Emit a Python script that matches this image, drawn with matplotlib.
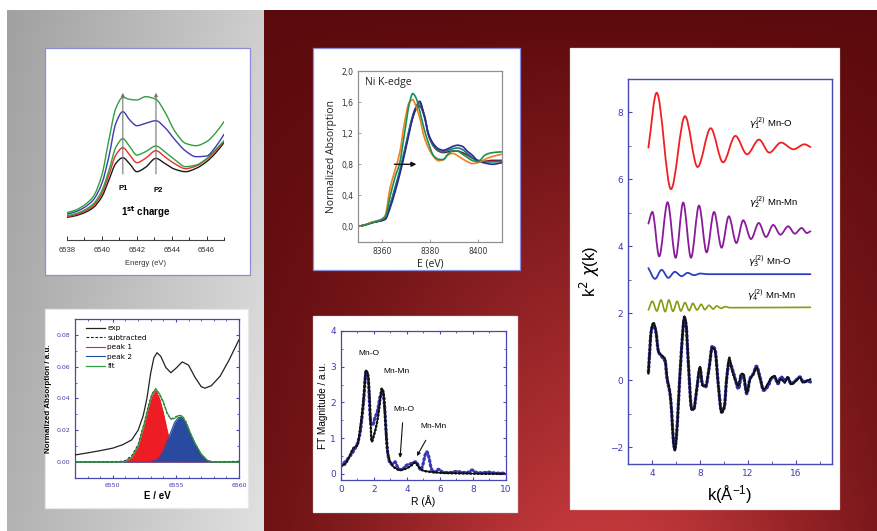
import matplotlib
matplotlib.use("Agg")
import matplotlib.pyplot as plt
import numpy as np
from matplotlib.patches import Rectangle, PathPatch
from matplotlib.path import Path
from matplotlib.ticker import MultipleLocator, FuncFormatter

W, H = 878, 531

# ---- panel A: Mn pre-edge, 1st charge ----
e_a = [6538.0, 6538.5, 6539.0, 6539.5, 6540.0, 6540.4, 6540.8, 6541.2, 6541.6, 6542.0,
       6542.5, 6543.1, 6543.6, 6544.2, 6544.8, 6545.4, 6546.0, 6546.5, 6547.0]
a_black = [0.68, 0.73, 0.82, 0.97, 1.30, 1.80, 2.30, 2.47, 2.28, 2.05, 2.18, 2.45, 2.30, 2.12, 2.05, 2.15, 2.35, 2.60, 2.92]
a_red = [0.70, 0.76, 0.86, 1.03, 1.40, 1.95, 2.55, 2.77, 2.55, 2.32, 2.45, 2.68, 2.50, 2.28, 2.14, 2.22, 2.42, 2.67, 2.95]
a_green = [0.73, 0.79, 0.90, 1.08, 1.48, 2.08, 2.78, 3.04, 2.80, 2.55, 2.65, 2.82, 2.65, 2.40, 2.20, 2.25, 2.44, 2.70, 2.98]
a_blue = [0.78, 0.85, 0.98, 1.20, 1.70, 2.50, 3.50, 3.85, 3.60, 3.43, 3.50, 3.58, 3.38, 3.00, 2.67, 2.50, 2.52, 2.78, 3.17]
a_top = [0.82, 0.90, 1.05, 1.30, 1.95, 3.00, 3.95, 4.28, 4.22, 4.20, 4.30, 4.22, 3.85, 3.25, 2.90, 2.83, 2.95, 3.20, 3.55]
p_marks = [6541.2, 6543.1]

# ---- panel B: peak fit ----
e_b = [6547.0, 6548.0, 6549.0, 6550.0, 6550.8, 6551.5, 6552.0, 6552.4, 6552.7, 6553.0, 6553.25, 6553.5,
       6553.8, 6554.2, 6554.6, 6555.0, 6555.5, 6556.0, 6556.5, 6557.0, 6557.3, 6557.8, 6558.5, 6559.2, 6560.0]
b_exp = [0.0045, 0.0058, 0.0072, 0.0088, 0.0110, 0.0140, 0.0200, 0.0290, 0.0400, 0.0560, 0.0655, 0.0688,
         0.0665, 0.0595, 0.0562, 0.0590, 0.0630, 0.0610, 0.0535, 0.0475, 0.0465, 0.0480, 0.0540, 0.0640, 0.0770]
e_pk = [6547.0, 6550.5, 6551.0, 6551.5, 6552.0, 6552.5, 6552.8, 6553.1, 6553.4, 6553.7, 6554.0, 6554.3,
        6554.6, 6554.9, 6555.2, 6555.5, 6555.8, 6556.1, 6556.5, 6557.0, 6557.5, 6558.0, 6560.0]
peak1 = [0, 0, 0.0005, 0.003, 0.010, 0.024, 0.034, 0.042, 0.045, 0.040, 0.031, 0.020,
         0.010, 0.004, 0.001, 0, 0, 0, 0, 0, 0, 0, 0]
peak2 = [0, 0, 0, 0, 0, 0, 0, 0.0005, 0.001, 0.003, 0.007, 0.013,
         0.019, 0.025, 0.028, 0.028, 0.025, 0.019, 0.012, 0.005, 0.001, 0, 0]
fit = [0, 0, 0.0005, 0.003, 0.010, 0.024, 0.034, 0.0425, 0.046, 0.043, 0.038, 0.031,
       0.027, 0.0275, 0.0292, 0.0288, 0.025, 0.019, 0.012, 0.005, 0.001, 0, 0]
subtracted = [0, 0.0003, 0.001, 0.004, 0.011, 0.025, 0.035, 0.043, 0.0462, 0.0425, 0.0375, 0.0305,
              0.0272, 0.028, 0.0295, 0.029, 0.0252, 0.0188, 0.0118, 0.0048, 0.0008, 0, 0.0005]

# ---- panel C: Ni K-edge ----
e_c = [8350, 8353, 8356, 8359, 8361.3, 8363.4, 8365.4, 8367.4, 8369.4, 8371.4, 8372.8, 8374.1,
       8375.7, 8377.5, 8379.5, 8381.5, 8383.5, 8385.5, 8387.5, 8389.5, 8391.5, 8393.5, 8395.5,
       8397.5, 8400, 8403, 8406, 8410]
c_orange = [0.0, 0.02, 0.06, 0.08, 0.14, 0.50, 0.72, 0.95, 1.34, 1.60, 1.63, 1.55, 1.40, 1.16, 1.00,
            0.90, 0.845, 0.86, 0.92, 0.94, 0.91, 0.87, 0.835, 0.81, 0.82, 0.865, 0.90, 0.93]
c_green = [0.0, 0.02, 0.05, 0.08, 0.12, 0.39, 0.63, 0.82, 1.20, 1.58, 1.71, 1.66, 1.49, 1.26, 1.06,
           0.91, 0.865, 0.86, 0.93, 0.97, 0.97, 0.93, 0.89, 0.85, 0.835, 0.92, 0.95, 0.96]
c_navy = [0.0, 0.02, 0.05, 0.07, 0.09, 0.24, 0.44, 0.67, 0.93, 1.21, 1.40, 1.53, 1.61, 1.44, 1.18,
          1.06, 1.00, 0.98, 1.00, 1.03, 1.045, 1.03, 0.97, 0.92, 0.845, 0.815, 0.80, 0.82]
c_teal = [0.0, 0.02, 0.05, 0.07, 0.10, 0.28, 0.50, 0.72, 0.98, 1.26, 1.43, 1.53, 1.58, 1.45, 1.17,
          1.04, 0.98, 0.96, 0.98, 1.00, 1.01, 0.99, 0.94, 0.89, 0.84, 0.83, 0.83, 0.84]
c_maroon = [0.0, 0.02, 0.05, 0.07, 0.10, 0.27, 0.48, 0.70, 0.96, 1.24, 1.40, 1.50, 1.55, 1.43, 1.16,
            1.03, 0.97, 0.95, 0.96, 0.97, 0.97, 0.95, 0.92, 0.88, 0.85, 0.84, 0.85, 0.85]

# ---- panel D: Fourier transform ----
r_black = [0.0, 0.24, 0.55, 0.75, 1.0, 1.15, 1.36, 1.52, 1.66, 1.76, 1.86, 2.0, 2.17, 2.33, 2.47,
           2.57, 2.67, 2.81, 2.94, 3.18, 3.58, 3.99, 4.29, 4.49, 4.7, 5.0, 5.6, 6.62, 10.0]
ft_black = [0.22, 0.27, 0.53, 0.72, 0.81, 1.23, 2.07, 2.90, 2.72, 1.79, 0.90, 1.09, 1.41, 1.88, 2.39,
            2.30, 1.60, 0.67, 0.39, 0.20, 0.11, 0.16, 0.25, 0.32, 0.20, 0.09, 0.05, 0.02, 0.0]
r_blue = [0.0, 0.55, 1.0, 1.15, 1.36, 1.52, 1.62, 1.72, 1.80, 1.92, 2.06, 2.20, 2.37, 2.51, 2.61,
          2.73, 2.83, 2.98, 3.14, 3.28, 3.42, 3.54, 3.68, 3.83, 3.99, 4.19, 4.39, 4.55, 4.70, 4.84,
          4.96, 5.10, 5.20, 5.32, 5.47, 5.61, 5.77, 5.91, 6.05, 6.21, 6.62, 7.02, 7.43, 7.73, 7.94,
          8.14, 8.54, 8.95, 9.25, 9.66, 10.0]
ft_blue = [0.22, 0.50, 0.86, 1.13, 1.97, 2.86, 2.76, 2.07, 1.41, 1.37, 1.58, 1.74, 2.16, 2.30, 2.07,
           1.23, 0.58, 0.30, 0.28, 0.34, 0.20, 0.13, 0.11, 0.18, 0.25, 0.28, 0.32, 0.34, 0.22, 0.11,
           0.25, 0.53, 0.62, 0.48, 0.16, 0.05, 0.07, 0.13, 0.09, 0.04, 0.04, 0.07, 0.04, 0.05, 0.11,
           0.05, 0.03, 0.05, 0.03, 0.02, 0.02]

# ---- panel E: EXAFS k2 chi(k) ----
k_red = [3.7, 4.39, 5.58, 6.75, 7.8, 8.89, 9.92, 10.95, 11.92, 12.92, 13.78, 14.75, 15.8, 16.7, 17.2]
chi_red = [6.95, 8.59, 5.71, 7.89, 6.37, 7.53, 6.51, 7.30, 6.75, 7.19, 6.80, 7.10, 6.90, 7.05, 6.97]
k_purple = [3.7, 4.03, 4.6, 5.3, 5.97, 6.6, 7.25, 7.92, 8.55, 9.17, 9.8, 10.4, 11.03, 11.6, 12.25,
            12.9, 13.5, 14.1, 14.7, 15.35, 15.9, 16.47, 16.9, 17.2]
chi_purple = [4.68, 5.03, 3.70, 5.32, 3.66, 5.31, 3.66, 5.22, 3.82, 5.03, 3.96, 4.90, 4.10, 4.78, 4.22,
              4.70, 4.28, 4.64, 4.35, 4.60, 4.38, 4.55, 4.40, 4.45]
k_blue = [3.7, 4.25, 4.8, 5.36, 5.9, 6.47, 6.97, 7.5, 8.05, 8.6, 17.2]
chi_blue = [3.35, 3.03, 3.30, 3.06, 3.24, 3.11, 3.21, 3.14, 3.19, 3.17, 3.17]
k_olive = [3.7, 4.03, 4.4, 4.75, 5.1, 5.4, 5.75, 6.1, 6.4, 6.75, 7.1, 7.4, 7.75, 8.1, 8.4, 8.75,
           9.1, 9.4, 9.75, 10.1, 10.5, 17.2]
chi_olive = [2.10, 2.36, 2.07, 2.40, 2.05, 2.40, 2.06, 2.36, 2.07, 2.32, 2.08, 2.30, 2.10, 2.27, 2.11,
             2.24, 2.13, 2.22, 2.15, 2.20, 2.17, 2.18]
k_data = [3.7, 3.95, 4.12, 4.3, 4.55, 4.8, 5.1, 5.25, 5.5, 5.64, 5.78, 5.9, 6.05, 6.19, 6.47, 6.7,
          6.83, 7.03, 7.3, 7.47, 7.72, 8.0, 8.2, 8.47, 8.75, 9.03, 9.25, 9.53, 9.8, 10.03, 10.22,
          10.44, 10.64, 10.92, 11.2, 11.4, 11.6, 11.9, 12.17, 12.45, 12.7, 13.0, 13.3, 13.7, 13.94,
          14.2, 14.5, 14.75, 15.08, 15.3, 15.6, 16.05, 16.33, 16.6, 16.97, 17.2]
chi_exp = [0.20, 1.52, 1.72, 1.52, 0.83, 0.75, 0.63, 0.13, -0.37, -0.97, -1.86, -2.11, -1.66, -0.77,
           1.02, 1.92, 1.72, 0.53, -0.87, -0.87, -0.27, 0.41, -0.17, -0.17, 0.33, 0.98, 0.87, -0.17,
           -0.97, -0.77, 0.03, 0.68, 0.33, 0.03, -0.17, 0.18, 0.20, -0.37, 0.03, 0.18, 0.38, 0.03,
           -0.27, -0.07, 0.08, 0.13, -0.07, 0.03, -0.07, 0.10, -0.12, 0.00, 0.08, -0.07, 0.00, 0.03]
chi_fit = [0.25, 1.50, 1.68, 1.50, 0.85, 0.72, 0.55, 0.05, -0.40, -0.95, -1.80, -2.05, -1.60, -0.75,
           0.98, 1.85, 1.68, 0.50, -0.85, -0.88, -0.30, 0.35, -0.10, -0.20, 0.35, 1.02, 0.92, -0.15,
           -0.95, -0.80, 0.05, 0.55, 0.40, 0.05, -0.25, 0.05, 0.15, -0.40, 0.05, 0.20, 0.42, 0.10,
           -0.30, -0.15, 0.05, 0.10, -0.10, 0.10, 0.00, 0.08, -0.10, 0.02, 0.10, -0.05, -0.02, -0.05]

BLUE = "#4848b4"
BLUE_TXT = "#3c3cb0"


def box(x0, y0, x1, y1):
    return [x0 / W, 1 - y1 / H, (x1 - x0) / W, (y1 - y0) / H]


def smooth_path(x, y):
    """Bezier path through the read points (shape-preserving cubic, like Origin's spline connect)."""
    x = np.asarray(x, float)
    y = np.asarray(y, float)
    h = np.diff(x)
    d = np.diff(y) / h
    m = np.zeros_like(y)
    m[0], m[-1] = d[0], d[-1]
    for i in range(1, len(x) - 1):
        if d[i - 1] * d[i] > 0:
            w1 = 2 * h[i] + h[i - 1]
            w2 = h[i] + 2 * h[i - 1]
            m[i] = (w1 + w2) / (w1 / d[i - 1] + w2 / d[i])
    verts = [(x[0], y[0])]
    codes = [Path.MOVETO]
    for i in range(len(x) - 1):
        verts += [(x[i] + h[i] / 3, y[i] + m[i] * h[i] / 3),
                  (x[i + 1] - h[i] / 3, y[i + 1] - m[i + 1] * h[i] / 3),
                  (x[i + 1], y[i + 1])]
        codes += [Path.CURVE4] * 3
    return Path(verts, codes)


def curve(ax, x, y, **kw):
    ax.add_patch(PathPatch(smooth_path(x, y), fill=False, capstyle="round", joinstyle="round", **kw))


fig = plt.figure(figsize=(8.78, 5.31), dpi=100)
fig.patch.set_facecolor("white")

# background: grey left half, dark red right half
bg = fig.add_axes([0, 0, 1, 1])
bg.set_xlim(0, W)
bg.set_ylim(H, 0)
bg.axis("off")
xf = np.linspace(0, 1, 200)[None, :]
yf = np.linspace(0, 1, 200)[:, None]
g = 0.63 + 0.18 * xf + 0.07 * yf
bg.imshow(np.dstack([g, g, g]), extent=(7, 264, H, 10), aspect="auto", zorder=0)
lum = yf * np.exp(-((xf - 0.55) / 0.42) ** 2)
red = np.dstack([0.36 + 0.40 * lum, 0.04 + 0.18 * lum, 0.05 + 0.18 * lum])
bg.imshow(red, extent=(264, W, H, 10), aspect="auto", zorder=0)

panels = [
    (45, 48, 250, 275, "#8c8cd8"),
    (45, 309, 248, 508, "#e8e8e8"),
    (313, 48, 520, 270, "#8c8cd8"),
    (313, 316, 517, 512, "#f0f0f0"),
    (570, 48, 839, 509, "#f0f0f0"),
]
for x0, y0, x1, y1, ec in panels:
    bg.add_patch(Rectangle((x0, y0), x1 - x0, y1 - y0, facecolor="white", edgecolor=ec, lw=0.9, zorder=1))

# ---------- panel A ----------
ax = fig.add_axes(box(67, 86.7, 224, 240))
ax.patch.set_visible(False)
for y, c in [(a_black, "#1a1a1a"), (a_red, "#e8302a"), (a_green, "#2fa040"), (a_blue, "#3c3cb0"), (a_top, "#2fa040")]:
    curve(ax, e_a, y, edgecolor=c, lw=1.0)
for xp in p_marks:
    ax.annotate("", xy=(xp, 4.5), xytext=(xp, 1.9),
                arrowprops=dict(arrowstyle="-|>", color="#777777", lw=0.8, mutation_scale=5))
ax.text(p_marks[0], 1.55, "P1", fontsize=5.5, fontweight="bold", ha="center", va="center", family="Liberation Sans")
ax.text(p_marks[1] + 0.1, 1.5, "P2", fontsize=5.5, fontweight="bold", ha="center", va="center", family="Liberation Sans")
ax.text(6542.5, 0.85, r"1$^{\mathbf{st}}$ charge", fontsize=7, fontweight="bold", ha="center", va="center",
        family="Liberation Sans")
ax.set_xlim(6538, 6547)
ax.set_ylim(0, 4.6)
for s in ["left", "right", "top"]:
    ax.spines[s].set_visible(False)
ax.spines["bottom"].set_color("#444444")
ax.spines["bottom"].set_linewidth(0.8)
ax.set_yticks([])
ax.xaxis.set_major_locator(MultipleLocator(2))
ax.xaxis.set_minor_locator(MultipleLocator(1))
ax.tick_params(axis="x", which="major", direction="in", length=3, width=0.7, labelsize=5.5, colors="#333333", pad=5)
ax.tick_params(axis="x", which="minor", direction="in", length=2, width=0.6)
ax.set_xlabel("Energy (eV)", fontsize=5.5, color="#333333", labelpad=4, family="Liberation Sans")
for lab in ax.get_xticklabels():
    lab.set_family("Liberation Sans")

# ---------- panel B ----------
ax = fig.add_axes(box(75, 319, 239, 478))
ax.fill_between(e_pk, peak1, color="#ee1c24", lw=0, zorder=2)
ax.fill_between(e_pk, peak2, color="#2a4aa0", lw=0, zorder=3)
ax.plot(e_b, b_exp, color="#222222", lw=0.9, label="exp", zorder=4)
ax.plot(e_pk, subtracted, color="#222222", lw=0.8, ls=(0, (2.5, 1.5)), label="subtracted", zorder=4)
ax.plot(e_pk, peak1, color="#ee1c24", lw=0.8, label="peak 1", zorder=2)
ax.plot(e_pk, peak2, color="#2a4aa0", lw=0.8, label="peak 2", zorder=3)
ax.plot(e_pk, fit, color="#2fa040", lw=0.9, label="fit", zorder=5)
ax.set_xlim(6547, 6560)
ax.set_ylim(-0.01, 0.09)
ax.set_xticks([6550, 6555, 6560])
ax.set_yticks([0.0, 0.02, 0.04, 0.06, 0.08])
ax.yaxis.set_major_formatter(FuncFormatter(lambda v, _: f"{v:.2f}"))
ax.xaxis.set_minor_locator(MultipleLocator(1))
ax.yaxis.set_minor_locator(MultipleLocator(0.01))
for s in ax.spines.values():
    s.set_color(BLUE)
    s.set_linewidth(0.9)
ax.tick_params(which="both", direction="in", top=True, right=True, color=BLUE, labelcolor=BLUE_TXT, labelsize=4.5)
ax.tick_params(which="major", length=2.5)
ax.tick_params(which="minor", length=1.5)
ax.set_xlabel("E / eV", fontsize=7, fontweight="bold", labelpad=2, family="Liberation Sans")
ax.set_ylabel("Normalized Absorption / a.u.", fontsize=5.8, fontweight="bold", labelpad=3, family="Liberation Sans")
ax.legend(loc="upper left", bbox_to_anchor=(0.05, 0.98), frameon=False, fontsize=5.3, handlelength=2.6,
          labelspacing=0.45, handletextpad=0.3, borderaxespad=0)

# ---------- panel C ----------
ax = fig.add_axes(box(358, 71, 502, 242))
for y, c in [(c_maroon, "#7a1a2a"), (c_teal, "#1a7a80"), (c_navy, "#2a2a90"), (c_orange, "#f08020"), (c_green, "#1a9050")]:
    curve(ax, e_c, y, edgecolor=c, lw=1.2)
ax.annotate("", xy=(8375.5, 0.8), xytext=(8364, 0.8),
            arrowprops=dict(arrowstyle="-|>", color="#111111", lw=1.0, mutation_scale=7))
ax.text(8353, 1.85, "Ni K-edge", fontsize=7.5, ha="left", va="center", family="Open Sans", color="#222222")
ax.set_xlim(8350, 8410)
ax.set_ylim(-0.2, 2.0)
ax.set_xticks([8360, 8380, 8400])
ax.set_yticks([0.0, 0.4, 0.8, 1.2, 1.6, 2.0])
ax.yaxis.set_major_formatter(FuncFormatter(lambda v, _: f"{v:.1f}".replace(".", ",")))
for s in ax.spines.values():
    s.set_color("#909090")
    s.set_linewidth(0.9)
ax.tick_params(direction="in", length=2, width=0.6, color="#909090", labelsize=5.5, labelcolor="#333333")
ax.set_xlabel("E (eV)", fontsize=7.5, labelpad=2, family="Open Sans", color="#222222")
ax.set_ylabel("Normalized Absorption", fontsize=7.5, labelpad=3, family="Open Sans", color="#222222")

# ---------- panel D ----------
ax = fig.add_axes(box(341, 331, 506, 480))
curve(ax, r_blue, ft_blue, edgecolor="#3a3ab0", lw=2.3, ls=(0, (0.5, 0.9)))
curve(ax, r_black, ft_black, edgecolor="#111111", lw=1.0)
curve(ax, r_black, ft_black, edgecolor="#111111", lw=1.8, ls=(0, (0.3, 1.2)))
ax.text(1.66, 3.37, "Mn-O", fontsize=6, ha="center", va="center", family="Liberation Sans")
ax.text(3.38, 2.86, "Mn-Mn", fontsize=6, ha="center", va="center", family="Liberation Sans")
ax.annotate("Mn-O", xy=(3.58, 0.45), xytext=(3.79, 1.8), fontsize=6, ha="center", va="center",
            family="Liberation Sans",
            arrowprops=dict(arrowstyle="-|>", color="#111111", lw=0.8, mutation_scale=5, shrinkA=5, shrinkB=0))
ax.annotate("Mn-Mn", xy=(4.6, 0.5), xytext=(5.6, 1.32), fontsize=6, ha="center", va="center",
            family="Liberation Sans",
            arrowprops=dict(arrowstyle="-|>", color="#111111", lw=0.8, mutation_scale=5, shrinkA=6, shrinkB=0))
ax.set_xlim(0, 10)
ax.set_ylim(-0.17, 4.0)
ax.set_xticks([0, 2, 4, 6, 8, 10])
ax.set_yticks([0, 1, 2, 3, 4])
ax.xaxis.set_minor_locator(MultipleLocator(1))
ax.yaxis.set_minor_locator(MultipleLocator(0.5))
for s in ax.spines.values():
    s.set_color(BLUE)
    s.set_linewidth(0.9)
ax.tick_params(which="both", direction="in", top=True, right=True, color=BLUE, labelcolor=BLUE_TXT, labelsize=6.5)
ax.tick_params(which="major", length=2.5)
ax.tick_params(which="minor", length=1.5)
ax.set_xlabel("R (Å)", fontsize=7.5, labelpad=1, family="Liberation Sans")
ax.set_ylabel("FT Magnitude / a.u.", fontsize=7.2, labelpad=2, family="Liberation Sans")

# ---------- panel E ----------
ax = fig.add_axes(box(628, 79, 832, 464))
curve(ax, k_red, chi_red, edgecolor="#f02020", lw=1.3)
curve(ax, k_purple, chi_purple, edgecolor="#8a1a9a", lw=1.3)
curve(ax, k_blue, chi_blue, edgecolor="#2a40c0", lw=1.3)
curve(ax, k_olive, chi_olive, edgecolor="#8a9a10", lw=1.2)
curve(ax, k_data, chi_fit, edgecolor="#3030a0", lw=2.4, ls=(0, (0.5, 0.8)))
curve(ax, k_data, chi_exp, edgecolor="#111111", lw=0.9)
curve(ax, k_data, chi_exp, edgecolor="#111111", lw=1.6, ls=(0, (0.3, 1.0)))
labels_e = [(12.1, 7.67, r"$\gamma_1^{(2)}$ Mn-O"), (12.1, 5.32, r"$\gamma_2^{(2)}$ Mn-Mn"),
            (12.0, 3.55, r"$\gamma_3^{(2)}$ Mn-O"), (11.9, 2.55, r"$\gamma_4^{(2)}$ Mn-Mn")]
for kx, ky, t in labels_e:
    ax.text(kx, ky, t, fontsize=6.8, ha="left", va="center", family="Liberation Sans")
ax.set_xlim(2, 19)
ax.set_ylim(-2.5, 9)
ax.set_xticks([4, 8, 12, 16])
ax.set_yticks([-2, 0, 2, 4, 6, 8])
ax.xaxis.set_minor_locator(MultipleLocator(2))
ax.yaxis.set_minor_locator(MultipleLocator(1))
for s in ax.spines.values():
    s.set_color(BLUE)
    s.set_linewidth(1.0)
ax.tick_params(which="both", direction="in", color=BLUE, labelcolor=BLUE_TXT, labelsize=6.5)
ax.tick_params(which="major", length=3)
ax.tick_params(which="minor", length=2)
ax.set_xlabel(r"k($\mathregular{\AA^{-1}}$)", fontsize=12, labelpad=4, family="Liberation Sans")
ax.set_ylabel(r"k$^2$ $\chi$(k)", fontsize=12, labelpad=6, family="Liberation Sans")

fig.savefig("out.png", dpi=100)
